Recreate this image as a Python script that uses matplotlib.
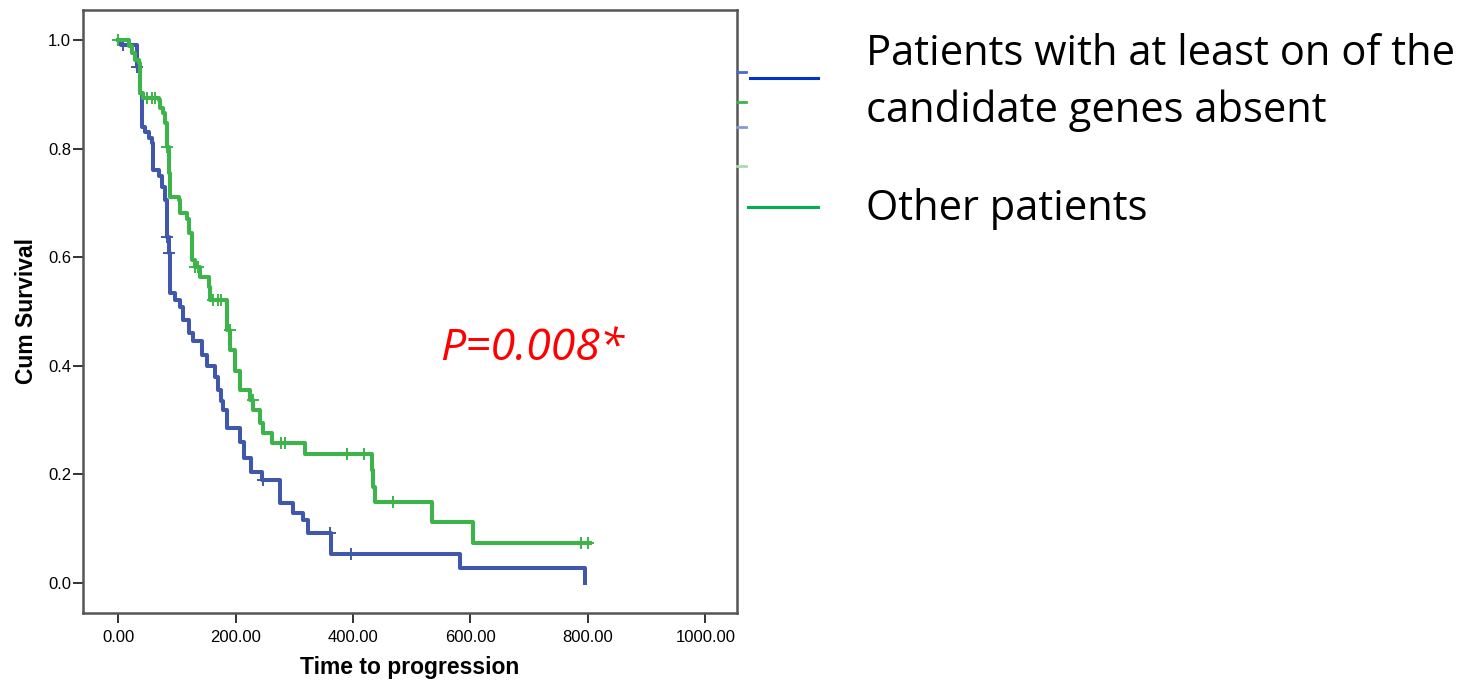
import matplotlib
matplotlib.use('Agg')
import matplotlib.pyplot as plt
from matplotlib.lines import Line2D

# step curves: time of each event and survival after it
blue_t = [0, 5, 32, 37, 40, 46, 52, 57, 60, 69, 74, 80, 83, 86, 88, 97, 106, 111, 120, 128,
          142, 151, 165, 170, 175, 179, 185, 208, 214, 226, 245, 276, 298, 315, 324, 362, 582, 795]
blue_s = [1.0, 0.99, 0.95, 0.902, 0.84, 0.83, 0.82, 0.81, 0.76, 0.75, 0.73, 0.705, 0.637, 0.608,
          0.534, 0.521, 0.508, 0.484, 0.46, 0.445, 0.42, 0.40, 0.38, 0.355, 0.335, 0.319, 0.285,
          0.26, 0.23, 0.205, 0.19, 0.147, 0.129, 0.116, 0.092, 0.053, 0.028, 0.0]
blue_cens_t = [8, 32, 83, 86, 247, 360, 396]
blue_cens_s = [0.99, 0.95, 0.637, 0.608, 0.19, 0.092, 0.053]

green_t = [0, 17.6, 23, 29, 35, 37, 43, 69, 71, 77, 80, 83, 86, 88, 103, 105.5, 117, 120, 125,
           131, 140, 154, 157, 186, 191, 199, 208, 225, 230, 242, 247, 262, 318, 432, 434, 437,
           534, 604, 803]
green_s = [1.0, 0.988, 0.975, 0.963, 0.957, 0.902, 0.893, 0.889, 0.874, 0.865, 0.847, 0.803,
           0.755, 0.711, 0.705, 0.681, 0.67, 0.645, 0.595, 0.582, 0.564, 0.545, 0.521, 0.466,
           0.43, 0.39, 0.355, 0.337, 0.319, 0.295, 0.276, 0.258, 0.2376, 0.208, 0.177, 0.15,
           0.113, 0.074, 0.074]
green_cens_t = [0, 49, 57, 63, 83, 131, 136, 162, 170, 175, 191, 230, 278, 284, 389, 419, 468, 789, 800]
green_cens_s = [1.0, 0.893, 0.893, 0.893, 0.803, 0.582, 0.582, 0.521, 0.521, 0.521, 0.466, 0.337,
                0.258, 0.258, 0.2376, 0.2376, 0.15, 0.074, 0.074]

legend_lines = ['Patients with at least on of the', 'candidate genes absent', 'Other patients']
x_ticks = [0, 200, 400, 600, 800, 1000]
y_ticks = [0.0, 0.2, 0.4, 0.6, 0.8, 1.0]

blue = '#4058ab'
green = '#3cb44a'
spss_font = ['Liberation Sans Narrow', 'Liberation Sans', 'DejaVu Sans']

W, H = 1479, 687
fig = plt.figure(figsize=(W / 100, H / 100), dpi=100)
ax = fig.add_axes([83 / W, 1 - 613 / H, 654 / W, 603 / H])

ax.step(blue_t, blue_s, where='post', color=blue, lw=2.9)
ax.plot(blue_cens_t, blue_cens_s, '+', color=blue, ms=9, mew=1.4)
ax.step(green_t, green_s, where='post', color=green, lw=2.9)
ax.plot(green_cens_t, green_cens_s, '+', color=green, ms=9, mew=1.4)

ax.set_xlim(-60, 1054)
ax.set_ylim(-0.055, 1.055)
ax.set_xticks(x_ticks)
ax.set_xticklabels(['%.2f' % v for v in x_ticks], family=spss_font, fontsize=12)
ax.set_yticks(y_ticks)
ax.set_yticklabels(['%.1f' % v for v in y_ticks], family=spss_font, fontsize=12)
ax.tick_params(direction='out', length=7, width=1.4, color='#333333', pad=5)
ax.tick_params(axis='y', pad=1.5)
for sp in ax.spines.values():
    sp.set_color('#555555')
    sp.set_linewidth(1.8)
ax.set_xlabel('Time to progression', family=spss_font, fontsize=16.5, fontweight='bold', labelpad=8)
ax.set_ylabel('Cum Survival', family=spss_font, fontsize=16.5, fontweight='bold', labelpad=7)

# clipped bits of the original legend along the right spine
for yy, cc in [(72, '#4a6cc4'), (102, '#3cb44a'), (127, '#8898d0'), (166, '#a8dcb0')]:
    fig.add_artist(Line2D([737 / W, 746 / W], [1 - yy / H] * 2, color=cc, lw=2,
                          transform=fig.transFigure))

# legend drawn on the figure
fig.add_artist(Line2D([750 / W, 818 / W], [1 - 78 / H] * 2, color='#0033cc', lw=2.2,
                      transform=fig.transFigure))
fig.add_artist(Line2D([748 / W, 818 / W], [1 - 207 / H] * 2, color='#00b050', lw=2.2,
                      transform=fig.transFigure))
for txt, base in zip(legend_lines, [65, 122, 220]):
    fig.text(866 / W, 1 - base / H, txt, ha='left', va='baseline', fontsize=30,
             family='Open Sans')

fig.text(440 / W, 1 - 360 / H, 'P=0.008*', ha='left', va='baseline', fontsize=32,
         family='Open Sans', style='italic', color='#ff0000')

fig.savefig('out.png', dpi=100)
